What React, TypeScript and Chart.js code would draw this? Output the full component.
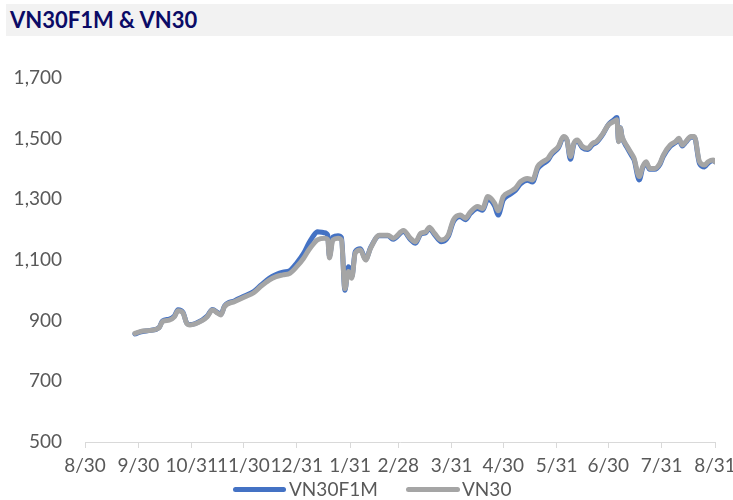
import React, { useEffect, useRef } from "react";
import { Chart, registerables } from "chart.js";

Chart.register(...registerables);

const startDate = "2020-08-30";
const tickDays = [0, 31, 62, 92, 123, 154, 182, 213, 243, 274, 304, 335, 366];
const tickLabels = ["8/30", "9/30", "10/31", "11/30", "12/31", "1/31", "2/28", "3/31", "4/30", "5/31", "6/30", "7/31", "8/31"];
const yTicks = [500, 700, 900, 1100, 1300, 1500, 1700];

const dates = [
  "2020-09-28", "2020-10-01", "2020-10-07", "2020-10-12", "2020-10-14", "2020-10-18", "2020-10-21", "2020-10-23",
  "2020-10-26", "2020-10-28", "2020-10-30", "2020-11-06", "2020-11-09", "2020-11-12", "2020-11-15", "2020-11-17",
  "2020-11-19", "2020-11-25", "2020-12-01", "2020-12-06", "2020-12-10", "2020-12-15", "2020-12-19", "2020-12-23",
  "2020-12-27", "2020-12-31", "2021-01-04", "2021-01-07", "2021-01-10", "2021-01-12", "2021-01-16", "2021-01-18",
  "2021-01-19", "2021-01-21", "2021-01-24", "2021-01-26", "2021-01-28", "2021-01-30", "2021-02-01", "2021-02-03",
  "2021-02-06", "2021-02-09", "2021-02-12", "2021-02-17", "2021-02-22", "2021-02-25", "2021-03-03", "2021-03-07",
  "2021-03-10", "2021-03-13", "2021-03-16", "2021-03-18", "2021-03-21", "2021-03-25", "2021-03-29", "2021-04-01",
  "2021-04-05", "2021-04-08", "2021-04-11", "2021-04-15", "2021-04-18", "2021-04-21", "2021-04-25", "2021-04-27",
  "2021-04-30", "2021-05-04", "2021-05-07", "2021-05-10", "2021-05-14", "2021-05-17", "2021-05-20", "2021-05-23",
  "2021-05-26", "2021-05-28", "2021-06-01", "2021-06-04", "2021-06-06", "2021-06-08", "2021-06-10", "2021-06-12",
  "2021-06-15", "2021-06-18", "2021-06-21", "2021-06-23", "2021-06-27", "2021-06-30", "2021-07-03", "2021-07-05",
  "2021-07-06", "2021-07-07", "2021-07-08", "2021-07-11", "2021-07-14", "2021-07-15", "2021-07-18", "2021-07-20",
  "2021-07-22", "2021-07-24", "2021-07-27", "2021-07-30", "2021-08-01", "2021-08-05", "2021-08-08", "2021-08-10",
  "2021-08-12", "2021-08-14", "2021-08-17", "2021-08-19", "2021-08-22", "2021-08-25", "2021-08-27", "2021-08-30",
  "2021-08-31",
];

const vn30 = [
  858, 864, 868, 876, 897, 902, 913, 933,
  925, 892, 886, 900, 913, 935, 925, 919,
  946, 963, 979, 992, 1012, 1034, 1045, 1051,
  1056, 1078, 1106, 1133, 1155, 1166, 1172, 1168,
  1107, 1166, 1172, 1166, 1005, 1062, 1040, 1123,
  1133, 1100, 1140, 1182, 1182, 1172, 1197, 1172,
  1160, 1188, 1193, 1208, 1188, 1166, 1182, 1232,
  1248, 1238, 1259, 1276, 1270, 1309, 1287, 1262,
  1309, 1325, 1336, 1358, 1369, 1364, 1408, 1424,
  1435, 1452, 1474, 1507, 1496, 1441, 1485, 1496,
  1474, 1468, 1485, 1490, 1518, 1545, 1556, 1562,
  1490, 1535, 1507, 1474, 1446, 1435, 1375, 1408,
  1424, 1402, 1402, 1419, 1446, 1479, 1490, 1501,
  1479, 1490, 1507, 1507, 1424, 1413, 1424, 1430,
  1424,
];

const vn30f1m = [
  856, 862, 868, 877, 899, 905, 916, 936,
  927, 893, 887, 902, 915, 937, 927, 921,
  948, 966, 982, 996, 1016, 1040, 1052, 1060,
  1065, 1090, 1122, 1155, 1182, 1193, 1190, 1182,
  1112, 1176, 1180, 1174, 1000, 1078, 1045, 1128,
  1137, 1102, 1142, 1180, 1180, 1168, 1194, 1168,
  1155, 1185, 1190, 1204, 1184, 1160, 1177, 1226,
  1243, 1233, 1254, 1270, 1264, 1300, 1278, 1248,
  1298, 1317, 1329, 1351, 1363, 1357, 1401, 1417,
  1429, 1447, 1470, 1504, 1494, 1432, 1481, 1493,
  1470, 1464, 1481, 1487, 1516, 1546, 1561, 1570,
  1492, 1536, 1505, 1470, 1440, 1430, 1364, 1404,
  1420, 1399, 1399, 1415, 1442, 1475, 1487, 1498,
  1476, 1488, 1505, 1505, 1418, 1407, 1420, 1428,
  1424,
];

const BLUE = "#4472C4";
const GRAY = "#A5A5A5";
const FONT = "Lato, 'Open Sans', sans-serif";

function dayOffset(d: string): number {
  return Math.round((Date.parse(d) - Date.parse(startDate)) / 86400000);
}

export default function App() {
  const ref = useRef<HTMLCanvasElement | null>(null);

  useEffect(() => {
    document.body.style.margin = "0";
    const ctx = ref.current;
    if (!ctx) return;
    const xs = dates.map(dayOffset);
    const chart = new Chart(ctx, {
      type: "line",
      data: {
        datasets: [
          {
            label: "VN30F1M",
            data: xs.map((x, i) => ({ x, y: vn30f1m[i] })),
            borderColor: BLUE,
            backgroundColor: BLUE,
            borderWidth: 5,
            pointRadius: 0,
            cubicInterpolationMode: "monotone",
            borderJoinStyle: "round",
            borderCapStyle: "round",
            order: 2,
          },
          {
            label: "VN30",
            data: xs.map((x, i) => ({ x, y: vn30[i] })),
            borderColor: GRAY,
            backgroundColor: GRAY,
            borderWidth: 5,
            pointRadius: 0,
            cubicInterpolationMode: "monotone",
            borderJoinStyle: "round",
            borderCapStyle: "round",
            order: 1,
          },
        ],
      },
      options: {
        animation: false,
        responsive: false,
        maintainAspectRatio: false,
        layout: { padding: { left: 0, right: 18, top: 78, bottom: 0 } },
        plugins: { legend: { display: false }, tooltip: { enabled: false }, title: { display: false } },
        scales: {
          x: {
            type: "linear",
            min: 0,
            max: 366,
            afterBuildTicks: (scale: any) => {
              scale.ticks = tickDays.map((v) => ({ value: v }));
            },
            afterFit: (scale: any) => {
              scale.paddingLeft = 0;
              scale.paddingRight = 0;
              scale.height = 58;
            },
            ticks: {
              autoSkip: false,
              maxRotation: 0,
              minRotation: 0,
              padding: 6,
              color: "#595959",
              font: { family: FONT, size: 19 },
              callback: (v: any) => {
                const i = tickDays.indexOf(Number(v));
                return i >= 0 ? tickLabels[i] : "";
              },
            },
            grid: { drawOnChartArea: false, drawTicks: true, tickLength: 6, color: "#D9D9D9" },
            border: { display: true, color: "#D9D9D9", width: 1 },
          },
          y: {
            min: 500,
            max: 1700,
            afterBuildTicks: (scale: any) => {
              scale.ticks = yTicks.map((v) => ({ value: v }));
            },
            afterFit: (scale: any) => {
              scale.width = 85;
            },
            ticks: {
              padding: 23,
              color: "#595959",
              font: { family: FONT, size: 19 },
              callback: (v: any) => Number(v).toLocaleString("en-US"),
            },
            grid: { display: false, drawTicks: false },
            border: { display: false },
          },
        },
      },
    });
    return () => chart.destroy();
  }, []);

  return (
    <div style={{ position: "relative", width: 733, height: 500, overflow: "hidden", background: "#fff" }}>
      <canvas ref={ref} width={733} height={500} style={{ position: "absolute", left: 0, top: 0 }} />
      <div
        style={{
          position: "absolute",
          left: 6,
          top: 4,
          width: 727,
          height: 32,
          background: "#F2F2F2",
          fontFamily: FONT,
          fontWeight: 700,
          fontSize: 22,
          lineHeight: "32px",
          color: "#0B0B66",
          paddingLeft: 4,
          boxSizing: "border-box",
          whiteSpace: "nowrap",
        }}
      >
        VN30F1M &amp; VN30
      </div>
      <div
        style={{
          position: "absolute",
          left: 0,
          top: 478,
          width: 733,
          height: 22,
          fontFamily: FONT,
          fontSize: 19,
          color: "#595959",
          lineHeight: "22px",
        }}
      >
        <span style={{ position: "absolute", left: 233, top: 9, width: 53, height: 5, borderRadius: 3, background: BLUE }} />
        <span style={{ position: "absolute", left: 289, top: 0 }}>VN30F1M</span>
        <span style={{ position: "absolute", left: 406, top: 9, width: 54, height: 5, borderRadius: 3, background: GRAY }} />
        <span style={{ position: "absolute", left: 462, top: 0 }}>VN30</span>
      </div>
    </div>
  );
}
